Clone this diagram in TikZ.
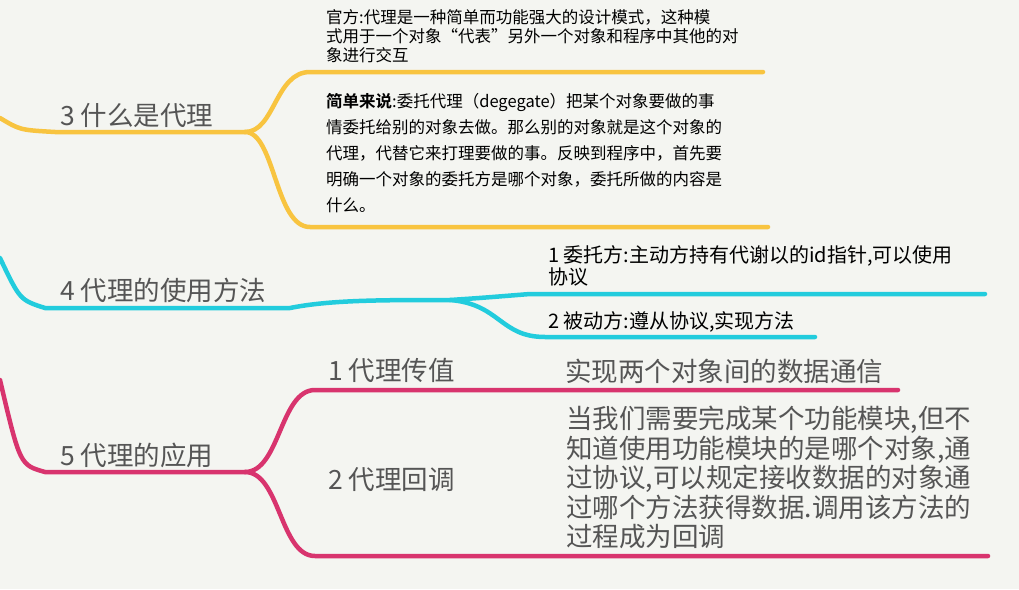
\documentclass[tikz,border=0pt]{standalone}
\usepackage{fontspec}
\newfontfamily\cjk{Noto Sans CJK SC}
\newfontfamily\cjkb{Noto Sans CJK SC Bold}
\definecolor{bg}{HTML}{F4F5F1}
\definecolor{org}{HTML}{F8C440}
\definecolor{cya}{HTML}{22CCDD}
\definecolor{pnk}{HTML}{D8346E}
\definecolor{txt}{HTML}{555555}
\begin{document}
\begin{tikzpicture}[x=1pt,y=-1pt,
  br/.style={line width=4.5pt,line cap=round},
  main/.style={anchor=west,inner sep=0,font=\cjk\fontsize{26.5}{30}\selectfont,text=txt},
  sub/.style={anchor=west,inner sep=0,font=\cjk\fontsize{26.5}{31}\selectfont,text=txt},
  small/.style={anchor=north west,inner sep=0,align=left,font=\cjk\fontsize{16.5}{19}\selectfont,text=black},
  mid/.style={anchor=north west,inner sep=0,align=left,font=\cjk\fontsize{16.5}{26}\selectfont,text=black},
  cy/.style={anchor=north west,inner sep=0,align=left,font=\cjk\fontsize{20}{22}\selectfont,text=black}]
\fill[bg] (0,0) rectangle (1019,589);
\useasboundingbox (0,0) rectangle (1019,589);
% orange
\coordinate (o0) at (0,118);
\coordinate (o1) at (55,132);
\coordinate (o2) at (245,132);
\coordinate (o3) at (310,72);
\coordinate (o4) at (763,72);
\coordinate (o5) at (310,227);
\coordinate (o6) at (768,227);
\draw[br,org] (o0) .. controls (20,130) .. (o1) -- (o2);
\draw[br,org] (o2) .. controls (275,132) and (275,72) .. (o3) -- (o4);
\draw[br,org] (o2) .. controls (275,132) and (275,227) .. (o5) -- (o6);
\node[main] (n3) at (60,116) {3 什么是代理};
\node[small] (t1) at (326,9) {官方:代理是一种简单而功能强大的设计模式，这种模\\式用于一个对象“代表”另外一个对象和程序中其他的对\\象进行交互};
\node[mid] (t2) at (326,93) {{\cjkb 简单来说}:委托代理（degegate）把某个对象要做的事\\情委托给别的对象去做。那么别的对象就是这个对象的\\代理，代替它来打理要做的事。反映到程序中，首先要\\明确一个对象的委托方是哪个对象，委托所做的内容是\\什么。};
% cyan
\coordinate (c0) at (0,258);
\coordinate (c1) at (45,308);
\coordinate (c2) at (290,308);
\coordinate (c4) at (530,294);
\coordinate (c5) at (985,294);
\coordinate (c6) at (545,337);
\coordinate (c7) at (815,337);
\draw[br,cya] (c0) .. controls (20,300) .. (c1) -- (c2) .. controls (330,300) and (380,300) .. (450,300) .. controls (480,298) .. (c4) -- (c5);
\draw[br,cya] (450,300) .. controls (500,304) and (500,337) .. (c6) -- (c7);
\node[main] (n4) at (60,290) {4 代理的使用方法};
\node[cy] (t3) at (548,245) {1 委托方:主动方持有代谢以的id指针,可以使用\\协议};
\node[cy] (t4) at (548,311) {2 被动方:遵从协议,实现方法};
% pink
\coordinate (p0) at (0,380);
\coordinate (p1) at (45,472);
\coordinate (p2) at (245,472);
\coordinate (p3) at (315,390);
\coordinate (p4) at (898,390);
\coordinate (p5) at (315,556);
\coordinate (p6) at (988,556);
\draw[br,pnk] (p0) .. controls (20,465) .. (p1) -- (p2);
\draw[br,pnk] (p2) .. controls (280,472) and (280,390) .. (p3) -- (p4);
\draw[br,pnk] (p2) .. controls (280,472) and (280,556) .. (p5) -- (p6);
\node[main] (n5) at (60,455) {5 代理的应用};
\node[sub] (s1) at (328,370) {1 代理传值};
\node[sub] (s1t) at (565,371) {实现两个对象间的数据通信};
\node[sub] (s2) at (328,480) {2 代理回调};
\node[sub,anchor=north west,align=left,font=\cjk\fontsize{26.5}{29.5}\selectfont] (s2t) at (566,406) {当我们需要完成某个功能模块,但不\\知道使用功能模块的是哪个对象,通\\过协议,可以规定接收数据的对象通\\过哪个方法获得数据.调用该方法的\\过程成为回调};
\end{tikzpicture}
\end{document}
